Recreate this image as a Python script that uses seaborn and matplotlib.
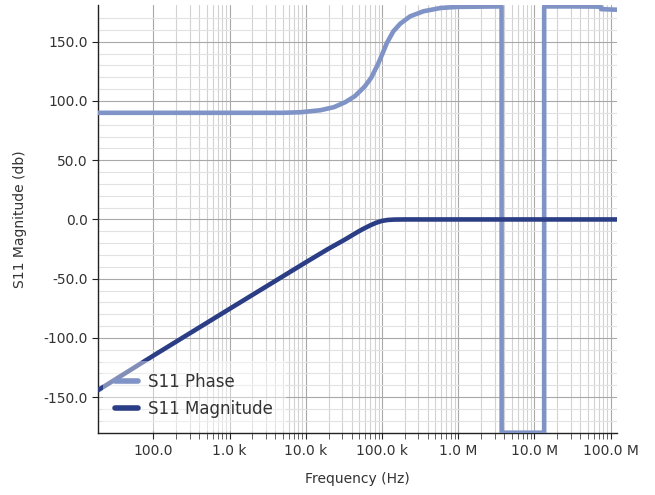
import matplotlib
matplotlib.use("Agg")
import matplotlib.pyplot as plt
import matplotlib.ticker as mticker
import seaborn as sns
import pandas as pd

# ---- data ----
mag_freq = [19, 100, 1e3, 1e4, 1.93e4, 3.3e4, 4.5e4, 5.5e4, 7e4, 8.3e4, 1e5, 1.2e5,
            1.45e5, 2e5, 1e6, 1e7, 1.22e8]
mag_db = [-144, -115, -75.5, -36.2, -25.2, -16.8, -11.6, -8.4, -5.0, -2.9, -1.2, -0.4,
          -0.1, 0, 0, 0, 0]

phase_freq = [19, 5e3, 8.6e3, 1.56e4, 2.35e4, 3.3e4, 4.4e4, 5.9e4, 7.2e4, 8.8e4, 1e5,
              1.16e5, 1.41e5, 1.74e5, 2.35e5, 3.5e5, 5.9e5, 9.7e5, 3.70e6, 3.71e6,
              1.34e7, 1.341e7, 3e7, 7.4e7, 7.5e7, 1.22e8]
phase_deg = [90, 90, 90.5, 92.2, 94.8, 99, 104, 112, 119.5, 130.7, 139,
             149, 158.8, 165.3, 171.5, 175.7, 178.5, 179.4, 179.8, -180,
             -180, 179.8, 179.8, 179.6, 177.5, 177]

x_ticks = [1e2, 1e3, 1e4, 1e5, 1e6, 1e7, 1e8]
x_tick_labels = ["100.0", "1.0 k", "10.0 k", "100.0 k", "1.0 M", "10.0 M", "100.0 M"]
y_ticks = [-150, -100, -50, 0, 50, 100, 150]
y_tick_labels = ["-150.0", "-100.0", "-50.0", "0.0", "50.0", "100.0", "150.0"]

phase_color = "#7f93c6"
mag_color = "#2b3e85"
text_color = "#333333"

sns.set_style("white")
plt.rcParams["font.family"] = ["DejaVu Sans"]

fig = plt.figure(figsize=(6.55, 4.95), dpi=100)
ax = fig.add_axes([98.3 / 655, 1 - 433.3 / 495, (617.3 - 98.3) / 655, (433.3 - 5) / 495])

df_phase = pd.DataFrame({"f": phase_freq, "v": phase_deg})
df_mag = pd.DataFrame({"f": mag_freq, "v": mag_db})

sns.lineplot(data=df_phase, x="f", y="v", ax=ax, sort=False, estimator=None,
             color=phase_color, linewidth=3.3, label="S11 Phase", zorder=3)
sns.lineplot(data=df_mag, x="f", y="v", ax=ax, sort=False, estimator=None,
             color=mag_color, linewidth=3.3, label="S11 Magnitude", zorder=4)

ax.set_xscale("log")
ax.set_xlim(19, 1.22e8)
ax.set_ylim(-180.5, 181)

ax.xaxis.set_major_locator(mticker.FixedLocator(x_ticks))
ax.xaxis.set_major_formatter(mticker.FixedFormatter(x_tick_labels))
minor_x = [m * 10 ** k for k in range(2, 8) for m in range(2, 10)]
ax.xaxis.set_minor_locator(mticker.FixedLocator(minor_x))
ax.xaxis.set_minor_formatter(mticker.NullFormatter())

ax.yaxis.set_major_locator(mticker.FixedLocator(y_ticks))
ax.yaxis.set_major_formatter(mticker.FixedFormatter(y_tick_labels))
ax.yaxis.set_minor_locator(mticker.FixedLocator([v for v in range(-170, 180, 10) if v % 50 != 0]))

ax.grid(which="major", color="#a8a8a8", linewidth=0.8)
ax.grid(which="minor", axis="x", color="#d2d2d2", linewidth=0.8)
ax.grid(which="minor", axis="y", color="#e2e2e2", linewidth=0.8)
ax.set_axisbelow(True)

for s in ["top", "right"]:
    ax.spines[s].set_visible(False)
for s in ["left", "bottom"]:
    ax.spines[s].set_color("#222222")
    ax.spines[s].set_linewidth(1.0)

ax.tick_params(axis="both", which="major", direction="out", length=4, width=0.8,
               colors="#222222", labelcolor=text_color, labelsize=10, left=True, bottom=True)
ax.tick_params(axis="x", which="minor", direction="out", length=4, width=0.6,
               colors="#444444", bottom=True)
ax.tick_params(axis="y", which="minor", length=0, left=False)

ax.set_xlabel("Frequency (Hz)", fontsize=10, color=text_color, labelpad=10)
ax.set_ylabel("S11 Magnitude (db)", fontsize=10, color=text_color, labelpad=12)

leg = ax.legend(loc="upper left", bbox_to_anchor=(102.5 / 655, 1 - 360.5 / 495),
                bbox_transform=fig.transFigure, frameon=True, fontsize=12,
                handlelength=1.35, handletextpad=0.65, labelspacing=0.55,
                borderpad=0.75, borderaxespad=0, facecolor="white", framealpha=0.42,
                edgecolor="none", fancybox=False)
leg.set_zorder(5)
for t in leg.get_texts():
    t.set_color(text_color)
for h in leg.get_lines():
    h.set_linewidth(4)

fig.savefig("out.png", dpi=100)
